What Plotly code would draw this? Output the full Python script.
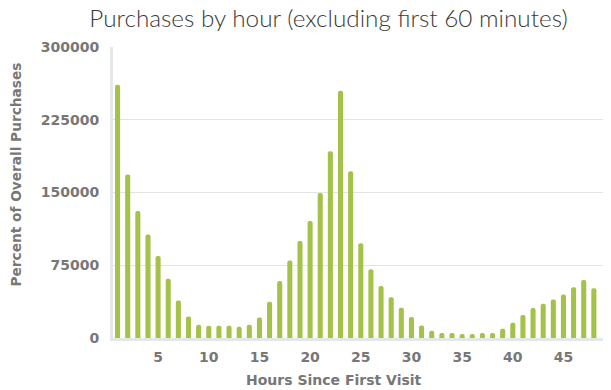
import plotly.graph_objects as go

hours = list(range(1, 49))
purchases = [
    261000, 168500, 131000, 106800, 84500, 61000, 38600, 22200, 13700, 12600,
    12600, 12600, 11600, 13700, 21200, 37300, 58800, 80000, 100000, 120500,
    149500, 192400, 255000, 171800, 97600, 70900, 53700, 42100, 31100, 21600,
    13000, 7500, 5100, 5100, 4100, 4100, 5100, 5100, 9600, 15700,
    23600, 30800, 35200, 39600, 44800, 52400, 59900, 51400,
]
x_ticks = [5, 10, 15, 20, 25, 30, 35, 40, 45]
y_ticks = [0, 75000, 150000, 225000, 300000]

title_text = "Purchases by hour (excluding first 60 minutes)"
x_title = "Hours Since First Visit"
y_title = "Percent of Overall Purchases"

# page body has an 8px margin, so the figure is 8px smaller than the window
W, H = 603, 382
L, R, T, B = 105, 7, 39, 52
plot_w = W - L - R

fig = go.Figure(
    go.Bar(
        x=hours,
        y=purchases,
        width=0.5,
        marker=dict(color="#a4c249", line=dict(width=0), cornerradius=2),
        hoverinfo="x+y",
    )
)

label_font = dict(family="'DejaVu Sans', sans-serif", size=14, color="#777777", weight="bold")

fig.update_layout(
    width=W,
    height=H,
    margin=dict(l=L, r=R, t=T, b=B),
    paper_bgcolor="white",
    plot_bgcolor="white",
    showlegend=False,
    bargap=0.5,
    title=dict(
        text=title_text,
        x=320.5 / W,
        xanchor="center",
        y=1,
        yanchor="top",
        xref="container",
        yref="container",
        pad=dict(t=2, b=0),
        font=dict(family="Lato, 'Open Sans', sans-serif", size=24.3, color="#3a3a3a", weight=300),
    ),
    xaxis=dict(
        range=[0.55, 49.0],
        tickvals=x_ticks,
        ticktext=[str(v) for v in x_ticks],
        showgrid=False,
        zeroline=False,
        showline=True,
        linecolor="#e3e8e8",
        linewidth=3,
        ticks="",
        tickfont=label_font,
        ticklabelstandoff=4,
    ),
    yaxis=dict(
        range=[0, 300000],
        tickvals=y_ticks,
        ticktext=[str(v) for v in y_ticks],
        showgrid=True,
        gridcolor="#e4e4e4",
        gridwidth=1,
        zeroline=False,
        showline=True,
        linecolor="#e3e8e8",
        linewidth=3,
        ticks="",
        tickfont=label_font,
        ticklabelstandoff=8,
    ),
    annotations=[
        dict(
            text=x_title,
            xref="paper", yref="paper",
            x=(326 - L) / plot_w, y=0,
            yshift=-42,
            xanchor="center", yanchor="middle",
            showarrow=False,
            font=dict(family="'DejaVu Sans', sans-serif", size=14, color="#777777", weight="bold"),
        ),
        dict(
            text=y_title,
            xref="paper", yref="paper",
            x=0, xshift=-98,
            y=0.5, yshift=18,
            textangle=-90,
            xanchor="center", yanchor="middle",
            showarrow=False,
            font=dict(family="'DejaVu Sans', sans-serif", size=13.7, color="#777777", weight="bold"),
        ),
    ],
)

fig.write_html("out.html")
